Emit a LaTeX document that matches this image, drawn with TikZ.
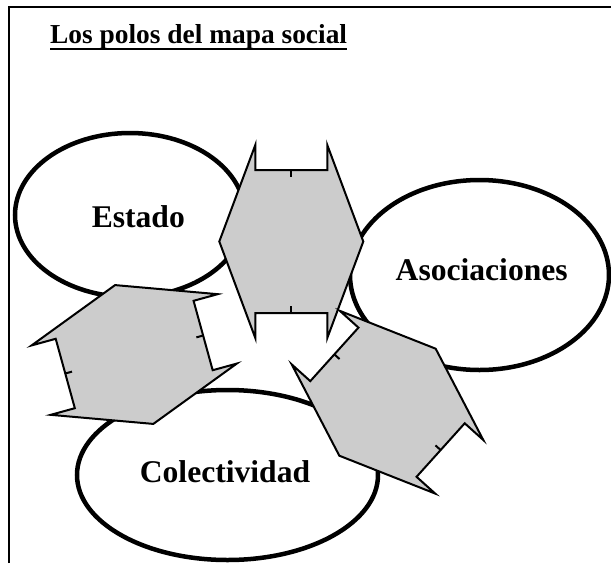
\documentclass[tikz,border=0pt]{standalone}
\usepackage{fontspec}
\setmainfont{Liberation Serif}
\usepackage{tikz}
\usetikzlibrary{shapes.geometric}
\definecolor{hexgray}{RGB}{204, 204, 204}

\begin{document}
\begin{tikzpicture}[
  x=1pt, y=-1pt,
  pole/.style={
    ellipse, draw=black, fill=white, line width=4.5pt, inner sep=0pt
  },
  polelabel/.style={font=\fontsize{31.6}{34}\selectfont\bfseries, anchor=base, inner sep=0pt},
  titlefont/.style={font=\fontsize{27.4}{30}\selectfont\bfseries, anchor=base west, inner sep=0pt},
  frame/.style={line width=2pt},
  hexa/.style={draw=black, fill=hexgray, line width=2pt},
  hextick/.style={line width=2pt},
  pics/polo/.style={code={
    \draw[hexa] (-72,0) -- (-36,-96.5) -- (-36,-71.5) -- (36,-71.5) -- (36,-96.5)
      -- (72,0) -- (36,96.5) -- (36,71.5) -- (-36,71.5) -- (-36,96.5) -- cycle;
    \draw[hextick] (0,-71.5) -- (0,-64.5);
    \draw[hextick] (0,71.5) -- (0,64.5);
  }},
]
\useasboundingbox (0,0) rectangle (611,563);

% Frame (open at right and bottom)
\draw[frame] (9.3,563) -- (9.3,7.3) -- (611,7.3);

% Title
\node[titlefont] (title) at (50,43.3) {Los polos del mapa social};
\draw[line width=2pt] ([yshift=-6pt]title.base west) -- ([yshift=-6pt]title.base east);

% The three poles
\node[pole, minimum width=230pt, minimum height=164pt] (estado) at (130,215) {};
\node[pole, minimum width=259pt, minimum height=190pt] (asoc)   at (479.5,275) {};
\node[pole, minimum width=301pt, minimum height=170pt] (colect) at (227.5,475) {};

\node[polelabel] (estadoT) at (138.3,227.3) {Estado};
\node[polelabel] (asocT)   at (481.7,280)   {Asociaciones};
\node[polelabel] (colectT) at (225,482.7)   {Colectividad};

% Hexagons between the poles
\pic at (291.3,241.5) {polo};
\pic[rotate=-74.6] at (134.2,354.5) {polo};
\pic[rotate=48] at (387.5,402.2) {polo};

\end{tikzpicture}
\end{document}
